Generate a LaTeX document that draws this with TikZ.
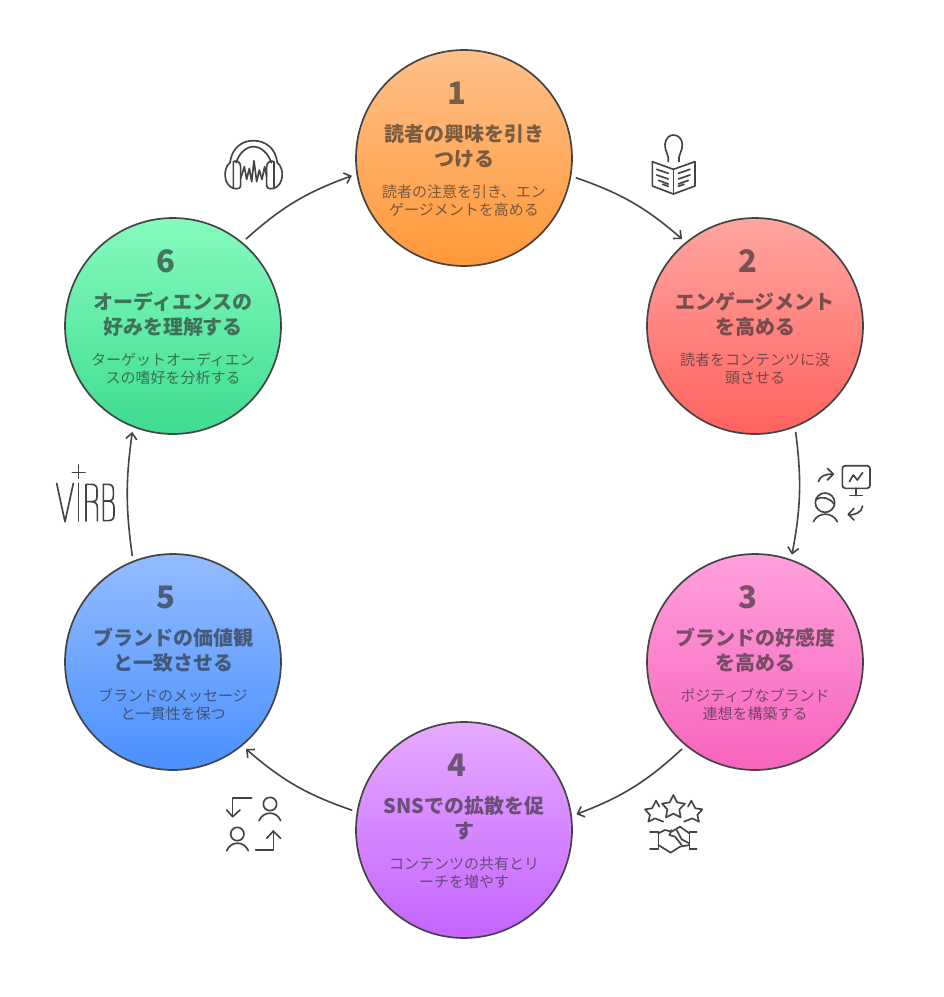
\documentclass[tikz,border=0pt]{standalone}
\usepackage{fontspec}
\setmainfont{Noto Sans CJK JP}
\usetikzlibrary{arrows.meta}
\definecolor{ink}{HTML}{444444}
\definecolor{txt}{HTML}{282828}
\tikzset{
  x=1pt,y=-1pt,
  disc/.style={circle,draw=ink,line width=1.7pt,minimum size=216pt,inner sep=0pt,outer sep=5.5pt},
  numtxt/.style={text=txt,text opacity=.62,font=\fontsize{31}{34}\selectfont\bfseries},
  ttl/.style={text=txt,text opacity=.62,align=center,inner sep=0pt,font=\fontsize{20}{25}\selectfont\bfseries},
  bodytxt/.style={text=txt,text opacity=.62,align=center,inner sep=0pt,font=\fontsize{15}{18}\selectfont},
  conn/.style={draw=ink,line width=1.6pt,-{Straight Barb[length=6pt,width=11pt,line width=1.6pt]},bend left=11},
  icon/.style={draw=ink,line width=1.65pt,line cap=round,line join=round},
  zoomed/.style={x=.33333pt,y=-.33333pt}
}
\begin{document}
\begin{tikzpicture}
\useasboundingbox[fill=white] (0,0) rectangle (944,997);
% discs
\node[disc,top color={rgb,255:red,255;green,192;blue,138},bottom color={rgb,255:red,255;green,152;blue,56}] (c1) at (464,158) {};
\node[disc,top color={rgb,255:red,255;green,166;blue,160},bottom color={rgb,255:red,255;green,98;blue,94}] (c2) at (755,326) {};
\node[disc,top color={rgb,255:red,255;green,160;blue,220},bottom color={rgb,255:red,247;green,100;blue,188}] (c3) at (755,662) {};
\node[disc,top color={rgb,255:red,230;green,170;blue,255},bottom color={rgb,255:red,196;green,100;blue,255}] (c4) at (464,830) {};
\node[disc,top color={rgb,255:red,148;green,188;blue,255},bottom color={rgb,255:red,74;green,144;blue,255}] (c5) at (173,662) {};
\node[disc,top color={rgb,255:red,134;green,251;blue,190},bottom color={rgb,255:red,62;green,220;blue,144}] (c6) at (173,326) {};
% numbers
\node[numtxt] (n1) at (457,93) {1};
\node[numtxt] (n2) at (748,261) {2};
\node[numtxt] (n3) at (748,597) {3};
\node[numtxt] (n4) at (457,765) {4};
\node[numtxt] (n5) at (166,597) {5};
\node[numtxt] (n6) at (166,261) {6};
% titles
\node[ttl] (t1) at (464,146) {読者の興味を引き\\つける};
\node[ttl] (t2) at (755,314) {エンゲージメント\\を高める};
\node[ttl] (t3) at (755,650) {ブランドの好感度\\を高める};
\node[ttl] (t4) at (464,818) {SNSでの拡散を促\\す};
\node[ttl] (t5) at (173,650) {ブランドの価値観\\と一致させる};
\node[ttl] (t6) at (173,314) {オーディエンスの\\好みを理解する};
% bodies
\node[bodytxt] (b1) at (464,201) {読者の注意を引き、エン\\ゲージメントを高める};
\node[bodytxt] (b2) at (755,369) {読者をコンテンツに没\\頭させる};
\node[bodytxt] (b3) at (755,705) {ポジティブなブランド\\連想を構築する};
\node[bodytxt] (b4) at (464,873) {コンテンツの共有とリ\\ーチを増やす};
\node[bodytxt] (b5) at (173,705) {ブランドのメッセージ\\と一貫性を保つ};
\node[bodytxt] (b6) at (173,369) {ターゲットオーディエン\\スの嗜好を分析する};
% connectors
\draw[conn] (c1.-10) to (c2.130);
\draw[conn,bend left=9] (c2.-69) to (c3.71);
\draw[conn] (c3.230) to (c4.8.5);
\draw[conn] (c4.170) to (c5.-50);
\draw[conn,bend left=8] (c5.111) to (c6.-111);
\draw[conn] (c6.50.6) to (c1.189.6);
% headphones
\begin{scope}[shift={(200,120)},zoomed]
\draw[icon] (90,128) .. controls (95,85) and (125,62) .. (160,62) .. controls (197,62) and (227,85) .. (232,128);
\draw[icon] (108,128) .. controls (118,98) and (140,80) .. (160,80) .. controls (182,80) and (204,98) .. (214,128);
\draw[icon] (90,128) .. controls (68,145) and (70,195) .. (100,205) .. controls (115,208) and (122,205) .. (122,195) -- (122,140) .. controls (122,125) and (108,120) .. (100,125) -- (100,205);
\draw[icon] (232,128) .. controls (254,145) and (252,195) .. (222,205) .. controls (207,208) and (200,205) .. (200,195) -- (200,140) .. controls (200,125) and (214,120) .. (222,125) -- (222,205);
\draw[icon] (122,175) -- (133,140) -- (140,178) -- (148,145) -- (155,185) -- (162,122) -- (170,185) -- (178,150) -- (186,178) -- (194,140) -- (200,170);
\end{scope}
% reader
\begin{scope}[shift={(630,120)},zoomed]
\draw[icon] (115,125) .. controls (118,105) and (103,92) .. (105,72) .. controls (107,55) and (118,45) .. (130,45) .. controls (144,45) and (155,55) .. (157,72) .. controls (159,92) and (143,105) .. (147,125);
\draw[icon] (67,125) -- (130,148) -- (195,125) -- (195,198) -- (130,222) -- (67,198) -- cycle;
\draw[icon] (130,148) -- (130,222);
\draw[icon] (80,148) -- (115,160) (80,165) -- (115,177) (85,181) -- (115,192) (98,193) -- (115,199);
\draw[icon] (180,148) -- (145,160) (180,165) -- (145,177) (175,181) -- (145,192) (162,193) -- (145,199);
\end{scope}
% presenter
\begin{scope}[shift={(800,450)},zoomed]
\draw[icon,rounded corners=3pt] (127,47) rectangle (210,115);
\draw[icon] (168,115) -- (168,137) (150,137) -- (187,137);
\draw[icon] (148,95) -- (160,75) -- (172,90) -- (188,68);
\draw[icon] (55,95) .. controls (60,78) and (75,72) .. (100,72);
\draw[icon] (82,55) -- (100,72) -- (82,90);
\draw[icon] (75,158) circle[radius=29];
\draw[icon] (47,150) .. controls (65,135) and (90,145) .. (103,162);
\draw[icon] (40,215) .. controls (55,185) and (97,185) .. (112,215);
\draw[icon] (188,168) .. controls (185,188) and (165,195) .. (145,195);
\draw[icon] (162,175) -- (145,193) -- (162,210);
\end{scope}
% stars and handshake
\begin{scope}[shift={(630,780)},zoomed]
\draw[icon] (130,45) -- (141,67) -- (165,71) -- (148,88) -- (152,112) -- (130,101) -- (108,112) -- (112,88) -- (96,71) -- (119,67) -- cycle;
\draw[icon] (88,80) -- (78,62) -- (66,85) -- (45,88) -- (60,105) -- (55,125) -- (75,115) -- (100,125);
\draw[icon] (174,80) -- (184,62) -- (196,85) -- (217,88) -- (202,105) -- (207,125) -- (187,115) -- (162,125);
\draw[icon] (60,155) -- (85,155) -- (85,207) -- (60,207);
\draw[icon] (200,155) -- (178,155) -- (178,207) -- (200,207);
\draw[icon] (85,160) -- (105,150) -- (125,155) -- (150,140) -- (178,160);
\draw[icon] (85,195) -- (122,218) -- (150,200) -- (178,195);
\draw[icon] (125,150) -- (118,165) -- (135,170) -- (155,195);
\draw[icon] (140,150) -- (155,178) -- (178,190);
\end{scope}
% users swap
\begin{scope}[shift={(210,780)},zoomed]
\draw[icon] (125,53) -- (68,53) -- (68,108);
\draw[icon] (50,90) -- (68,110) -- (90,90);
\draw[icon] (180,72) circle[radius=20];
\draw[icon] (147,122) .. controls (160,92) and (200,92) .. (212,122);
\draw[icon] (82,162) circle[radius=20];
\draw[icon] (50,212) .. controls (63,182) and (102,182) .. (115,212);
\draw[icon] (137,210) -- (190,210) -- (190,155);
\draw[icon] (170,175) -- (190,153) -- (212,175);
\end{scope}
% VIRB logo
\begin{scope}[shift={(40,450)},zoomed]
\draw[icon] (115,45) -- (115,85) (97,67) -- (135,67);
\draw[icon] (50,100) -- (75,215) -- (100,100);
\draw[icon] (115,100) -- (115,213);
\draw[icon] (138,213) -- (138,103) -- (155,103) .. controls (167,103) and (171,110) .. (171,120) -- (171,140) .. controls (171,150) and (167,155) .. (155,155) -- (138,155);
\draw[icon] (155,155) .. controls (167,155) and (172,162) .. (172,172) -- (172,213);
\draw[icon] (190,103) -- (190,212) -- (205,212) .. controls (217,212) and (222,205) .. (222,195) -- (222,172) .. controls (222,160) and (215,153) .. (205,153) -- (190,153);
\draw[icon] (190,103) -- (205,103) .. controls (215,103) and (220,110) .. (220,120) -- (220,138) .. controls (220,148) and (215,153) .. (205,153);
\end{scope}
\end{tikzpicture}
\end{document}
